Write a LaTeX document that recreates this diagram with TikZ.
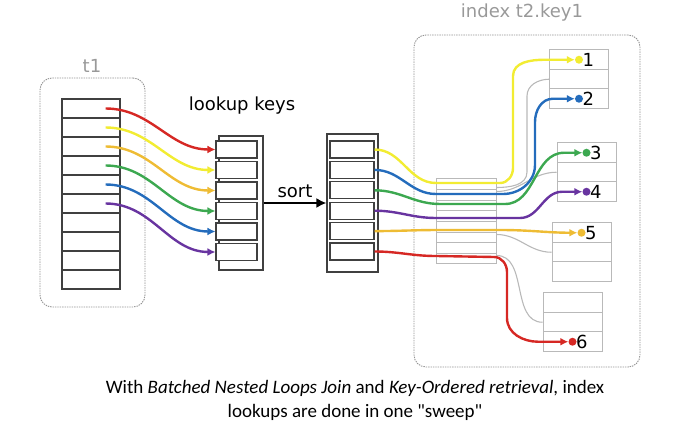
\documentclass[tikz,border=0pt]{standalone}
\usepackage{fontspec}
\setmainfont{Carlito}
\newfontfamily\capfont{Carlito}
\newfontfamily\lblfont{DejaVu Sans}
\usetikzlibrary{arrows.meta,calc}

\definecolor{kred}{RGB}{214,40,36}
\definecolor{kyellow}{RGB}{242,236,50}
\definecolor{korange}{RGB}{238,188,52}
\definecolor{kgreen}{RGB}{60,168,80}
\definecolor{kblue}{RGB}{36,108,188}
\definecolor{kpurple}{RGB}{104,52,160}

\begin{document}
\begin{tikzpicture}[
    x=1pt, y=-1pt,
    group/.style={rectangle, draw=gray!85, dash pattern=on 1.4pt off 1pt,
                  line width=0.9pt, rounded corners=12pt},
    cell/.style={rectangle, draw=black!75, line width=1.1pt, fill=white,
                 inner sep=0pt},
    gcell/.style={rectangle, draw=gray!55, line width=1pt, fill=white,
                  inner sep=0pt},
    lbl/.style={font=\lblfont\fontsize{18}{20}\selectfont},
    glbl/.style={lbl, text=gray!80},
    key/.style={line width=2.4pt, -{Latex[length=8pt,width=8pt]}},
    ptr/.style={draw=gray!55, line width=1.1pt},
    dot/.style={circle, inner sep=0pt, minimum size=8pt},
  ]
  \useasboundingbox (0,0) rectangle (680,427);

  % ===== Table t1 =====
  \node[group, minimum width=105pt, minimum height=229pt] (t1box) at (92.5,192.5) {};
  \node[glbl] (t1lbl) at (92,66) {t1};
  \foreach \i in {1,...,10}
    \node[cell, minimum width=58pt, minimum height=19pt] (t\i) at (91,89.5+19*\i) {};

  % ===== Lookup keys (unsorted) =====
  \node[cell, minimum width=44pt, minimum height=134pt] (keys) at (241,203) {};
  \foreach \i in {1,...,6}
    \node[cell, minimum width=41pt, minimum height=17pt] (k\i) at (236.5,129+20.5*\i) {};
  \node[lbl] (keyslbl) at (242,106) {lookup keys};

  % ===== Lookup keys (sorted) =====
  \node[cell, minimum width=51pt, minimum height=138pt] (sorted) at (352.5,203) {};
  \foreach \i in {1,...,6}
    \node[cell, minimum width=44pt, minimum height=17pt] (s\i) at (352,129.1+20.4*\i) {};

  \draw[line width=2.6pt, -{Latex[length=10pt,width=10pt]}] (keys) -- node[lbl, above=1pt] {sort} (sorted);

  % ===== Index t2.key1 =====
  \node[group, minimum width=226pt, minimum height=332pt] (idx) at (527,201) {};
  \node[glbl] (idxlbl) at (522,13) {index t2.key1};

  % inner node
  \foreach \i in {1,...,8}
    \node[gcell, minimum width=60pt, minimum height=10.625pt] (m\i) at (466,173.6875+10.625*\i) {};

  % leaf pages
  \foreach \l/\x/\y in {a/579/50, b/586.5/143, c/581.5/223, d/572.5/293}
    \foreach \j in {1,2,3}
      \node[gcell, minimum width=59pt, minimum height=19.5pt] (\l\j) at (\x,\y-9.75+19.5*\j) {};

  % found rows
  \node[dot, fill=kyellow, label={[lbl, label distance=-4pt]right:1}] (p1) at (a1) {};
  \node[dot, fill=kblue,   label={[lbl, label distance=-4pt]right:2}] (p2) at (a3) {};
  \node[dot, fill=kgreen,  label={[lbl, label distance=-4pt]right:3}] (p3) at (b1) {};
  \node[dot, fill=kpurple, label={[lbl, label distance=-4pt]right:4}] (p4) at (b3) {};
  \node[dot, fill=korange, label={[lbl, label distance=-4pt]right:5}] (p5) at (c1) {};
  \node[dot, fill=kred,    label={[lbl, label distance=-4pt]right:6}] (p6) at (d3) {};

  % child pointers
  \draw[ptr] ([yshift=-9pt]m1.north east) to[out=0,in=-90] (527,172) -- (527,96) to[out=90,in=180] (a2.west);
  \draw[ptr] ([yshift=-13pt]m1.north east) to[out=0,in=180] (b2.west);
  \draw[ptr] ([yshift=-56pt]m1.north east) to[out=0,in=180] (c2.west);
  \draw[ptr] ([yshift=-77pt]m1.north east) to[out=0,in=180] (d2.west);

  % ===== t1 rows -> lookup keys =====
  \foreach \i/\c in {1/kred, 2/kyellow, 3/korange, 4/kgreen, 5/kblue, 6/kpurple}
    \draw[key, \c] ([xshift=-15pt]t\i.east) to[out=0,in=180] (k\i.west);

  % ===== sorted keys -> index rows (one sweep) =====
  \draw[key, kyellow] (s1.east) to[out=0,in=180] (436,183) -- (500,183)
    to[out=0,in=-90] (513,168) -- (513,76) to[out=90,in=180] ($(p1.west)+(-30,0)$) -- (p1);
  \draw[key, kblue] (s2.east) to[out=0,in=180] (436,194) -- (503,194)
    to[out=0,in=-90] (535,165) -- (535,122) to[out=90,in=180] ($(p2.west)+(-22,0)$) -- (p2);
  \draw[key, kgreen] (s3.east) to[out=0,in=180] (440,204) -- (505,204)
    to[out=0,in=180] ($(p3.west)+(-18,0)$) -- (p3);
  \draw[key, kpurple] (s4.east) to[out=0,in=180] (436,218) -- (520,218)
    to[out=0,in=180] ($(p4.west)+(-20,0)$) -- (p4);
  \draw[key, korange] (s5.east) to[out=0,in=180] (440,230) -- (500,230)
    to[out=0,in=180] (p5);
  \draw[key, kred] (s6.east) to[out=0,in=180] (436,256) -- (494,257)
    to[out=0,in=90] (507,272) -- (507,318) to[out=-90,in=180] ($(p6.west)+(-30,0)$) -- (p6);

  % ===== Caption =====
  \node[align=center, font=\capfont\fontsize{19}{24}\selectfont] (cap) at (355,400)
    {With \textit{Batched Nested Loops Join} and \textit{Key-Ordered retrieval}, index\\
     lookups are done in one "sweep"};

\end{tikzpicture}
\end{document}
